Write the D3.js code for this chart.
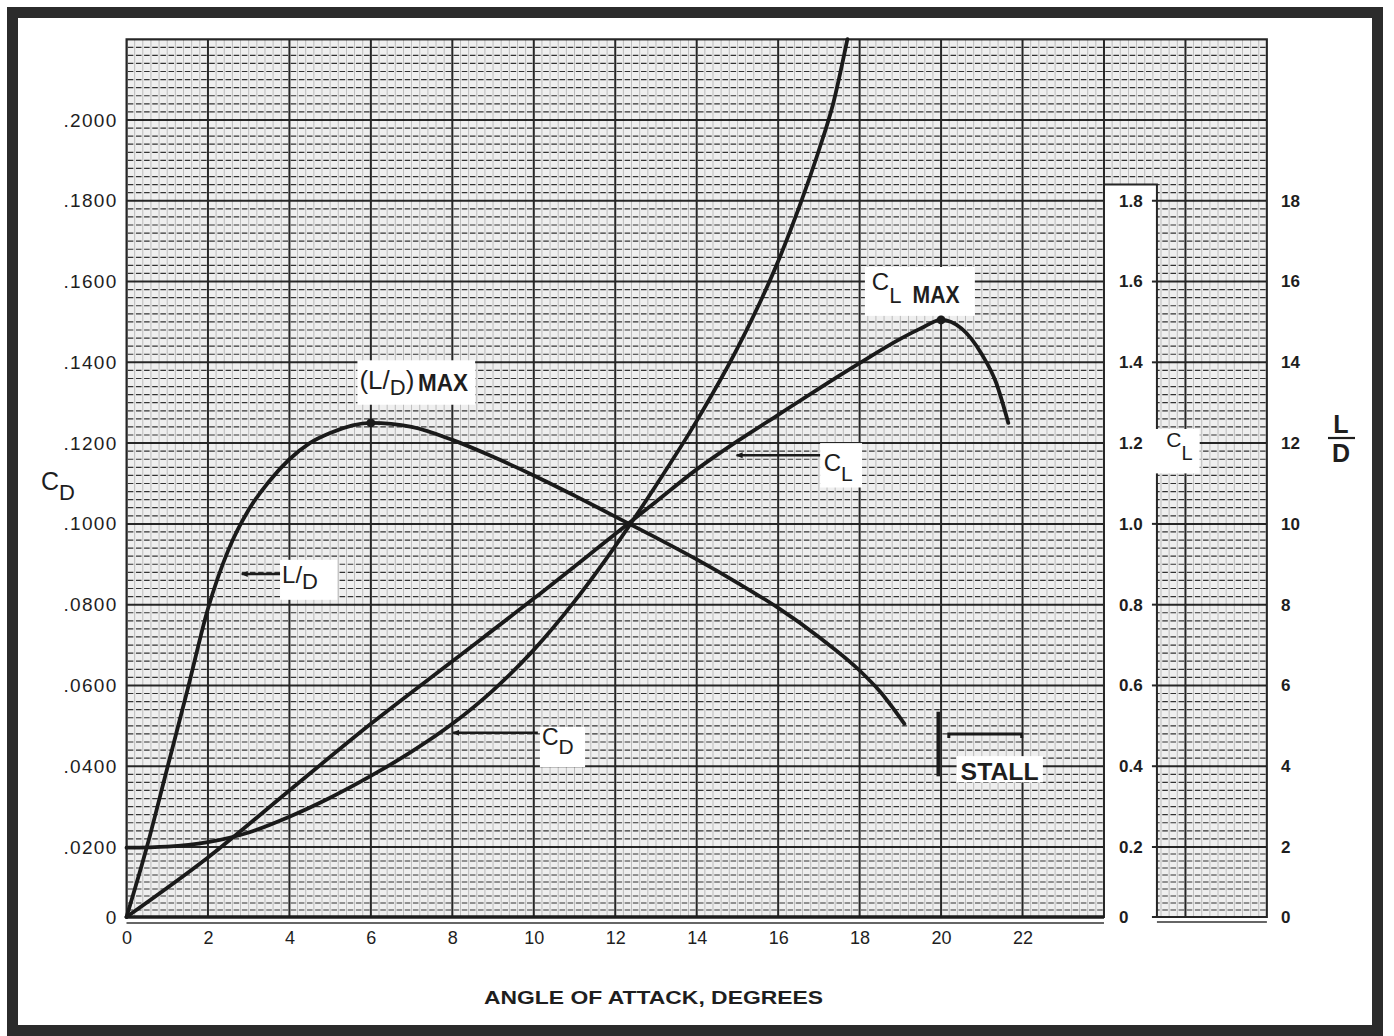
<!DOCTYPE html>
<html><head><meta charset="utf-8">
<script src="https://cdn.jsdelivr.net/npm/d3@7"></script>
<style>
html,body{margin:0;padding:0;background:#fff;}
svg{display:block;}
text{font-family:"Liberation Sans",Arial,Helvetica,sans-serif;fill:#1e1e1e;}
</style></head><body>
<svg id="chart" width="1394" height="1036"></svg>
<script>
// ---------- data ----------
const alphaLD = [0, 0.5, 1, 1.5, 2, 2.5, 3, 3.5, 4, 4.5, 5, 6, 7, 8, 9, 10, 11, 12, 13, 14, 15, 16, 17, 18, 18.5, 19.1];
const valuesLD = [0, 2.0, 3.95, 5.9, 7.9, 9.35, 10.35, 11.05, 11.6, 12.0, 12.25, 12.5, 12.4, 12.08, 11.66, 11.2, 10.7, 10.18, 9.66, 9.12, 8.54, 7.92, 7.2, 6.37, 5.85, 5.05];

const alphaCL = [0, 2, 4, 6, 8, 10, 12, 13, 14, 15, 16, 17, 18, 19, 19.5, 20, 20.5, 21, 21.35, 21.65];
const valuesCL = [0, 0.17, 0.34, 0.505, 0.66, 0.815, 0.975, 1.055, 1.135, 1.205, 1.27, 1.335, 1.398, 1.458, 1.484, 1.505, 1.484, 1.42, 1.35, 1.25];

const alphaCD = [0, 1, 2, 3, 4, 5, 6, 7, 8, 9, 10, 11, 12, 13, 14, 15, 16, 16.5, 17, 17.35, 17.7];
const valuesCD = [0.0198, 0.0201, 0.0212, 0.0236, 0.0275, 0.0322, 0.0376, 0.0436, 0.0505, 0.0588, 0.0688, 0.0808, 0.0945, 0.1095, 0.1255, 0.1435, 0.165, 0.178, 0.1925, 0.204, 0.22];

const xTicks = [0, 2, 4, 6, 8, 10, 12, 14, 16, 18, 20, 22];
const cdTicks = [0, 0.02, 0.04, 0.06, 0.08, 0.10, 0.12, 0.14, 0.16, 0.18, 0.20];
const cdTickLabels = ["0", ".0200", ".0400", ".0600", ".0800", ".1000", ".1200", ".1400", ".1600", ".1800", ".2000"];
const clTicks = [0, 0.2, 0.4, 0.6, 0.8, 1.0, 1.2, 1.4, 1.6, 1.8];
const clTickLabels = ["0", "0.2", "0.4", "0.6", "0.8", "1.0", "1.2", "1.4", "1.6", "1.8"];
const ldTicks = [0, 2, 4, 6, 8, 10, 12, 14, 16, 18];
const ldTickLabels = ["0", "2", "4", "6", "8", "10", "12", "14", "16", "18"];

const ldMax = {alpha: 6, value: 12.5};
const clMax = {alpha: 20, value: 1.505};

// ---------- scales ----------
const svg = d3.select("#chart");
const x = d3.scaleLinear().domain([0, 28]).range([126.5, 1266.9]);
const yRange = [917, 847, 39.2];
const yCD = d3.scaleLinear().domain([0, 0.02, 0.22]).range(yRange);
const yCL = d3.scaleLinear().domain([0, 0.2, 2.2]).range(yRange);
const yLD = d3.scaleLinear().domain([0, 2, 22]).range(yRange);

const mainRight = 24, panelLeft = 25.3, panelRight = 28, gapTop = 0.184, gridTop = 0.22;

// frame
svg.append("rect").attr("x", 0).attr("y", 0).attr("width", 1394).attr("height", 1036).attr("fill", "#fff");
svg.append("rect").attr("x", 12.5).attr("y", 12.5).attr("width", 1365).attr("height", 1018)
  .attr("fill", "none").attr("stroke", "#2b2b2b").attr("stroke-width", 11);

// ---------- grid ----------
const outline = [
  [x(0), yCD(0)], [x(0), yCD(gridTop)], [x(panelRight), yCD(gridTop)], [x(panelRight), yCD(0)],
  [x(panelLeft), yCD(0)], [x(panelLeft), yCD(gapTop)], [x(mainRight), yCD(gapTop)], [x(mainRight), yCD(0)]
];
const outlineStr = outline.map(p => p.join(",")).join(" ");
svg.append("clipPath").attr("id", "gridClip").append("polygon").attr("points", outlineStr);

const grid = svg.append("g").attr("clip-path", "url(#gridClip)");
grid.append("polygon").attr("points", outlineStr).attr("fill", "#efefef");

const hIdx = d3.range(0, 111);
const vIdx = d3.range(0, 141);
// minor verticals
grid.selectAll(".vmin").data(vIdx.filter(k => k % 10 !== 0)).join("line")
  .attr("x1", k => x(k * 0.2)).attr("x2", k => x(k * 0.2))
  .attr("y1", yCD(0)).attr("y2", yCD(gridTop))
  .attr("stroke", "#7a7a7a").attr("stroke-width", 0.8).attr("opacity", 0.55);
// minor horizontals (dashed)
const period = x(0.2) - x(0);
grid.selectAll(".hmin").data(hIdx.filter(k => k % 10 !== 0)).join("line")
  .attr("x1", x(0)).attr("x2", x(panelRight))
  .attr("y1", k => yCD(k * 0.002)).attr("y2", k => yCD(k * 0.002))
  .attr("stroke", "#333").attr("stroke-width", 1.2)
  .attr("stroke-dasharray", `${period * 0.68},${period * 0.32}`)
  .attr("stroke-dashoffset", -period * 0.16);
// major lines
grid.selectAll(".vmaj").data(vIdx.filter(k => k % 10 === 0)).join("line")
  .attr("x1", k => x(k * 0.2)).attr("x2", k => x(k * 0.2))
  .attr("y1", yCD(0)).attr("y2", yCD(gridTop))
  .attr("stroke", "#262626").attr("stroke-width", 2);
grid.selectAll(".hmaj").data(hIdx.filter(k => k % 10 === 0)).join("line")
  .attr("x1", x(0)).attr("x2", x(panelRight))
  .attr("y1", k => yCD(k * 0.002)).attr("y2", k => yCD(k * 0.002))
  .attr("stroke", "#262626").attr("stroke-width", 2);

svg.append("polygon").attr("points", outlineStr)
  .attr("fill", "none").attr("stroke", "#262626").attr("stroke-width", 2);

// small ticks on left of right panel for major lines
svg.selectAll(".ptick").data(clTicks).join("line")
  .attr("x1", x(panelLeft) - 5).attr("x2", x(panelLeft))
  .attr("y1", d => yCL(d)).attr("y2", d => yCL(d))
  .attr("stroke", "#262626").attr("stroke-width", 2);

// bottom axis thick line + thin under-line
svg.append("line").attr("x1", x(0)).attr("x2", x(mainRight)).attr("y1", yCD(0)).attr("y2", yCD(0))
  .attr("stroke", "#1e1e1e").attr("stroke-width", 3.5);
svg.append("line").attr("x1", x(0)).attr("x2", x(mainRight)).attr("y1", yCD(0) + 6).attr("y2", yCD(0) + 6)
  .attr("stroke", "#333").attr("stroke-width", 1.5);
svg.append("line").attr("x1", x(panelLeft)).attr("x2", x(panelRight)).attr("y1", yCD(0) + 5).attr("y2", yCD(0) + 5)
  .attr("stroke", "#333").attr("stroke-width", 1.5);

// ---------- axes ----------
const fontFam = '"Liberation Sans",Arial,sans-serif';
const xAxis = svg.append("g").attr("transform", `translate(0,${yCD(0)})`)
  .call(d3.axisBottom(x).tickValues(xTicks).tickSize(0).tickPadding(14).tickFormat(d3.format("d")));
xAxis.select(".domain").remove();
xAxis.selectAll("text").attr("font-size", 18).attr("fill", "#1e1e1e").style("font-family", fontFam);

const yAxisL = svg.append("g").attr("transform", `translate(${x(0)},0)`)
  .call(d3.axisLeft(yCD).tickValues(cdTicks).tickSize(0).tickPadding(9).tickFormat((d, i) => cdTickLabels[i]));
yAxisL.select(".domain").remove();
yAxisL.selectAll("text").attr("font-size", 19).attr("letter-spacing", 1.3).attr("fill", "#1e1e1e").style("font-family", fontFam);

const yAxisCL = svg.append("g").attr("transform", `translate(1119,0)`)
  .call(d3.axisRight(yCL).tickValues(clTicks).tickSize(0).tickPadding(0).tickFormat((d, i) => clTickLabels[i]));
yAxisCL.select(".domain").remove();
yAxisCL.selectAll("text").attr("font-size", 17).attr("font-weight", "bold").attr("fill", "#1e1e1e").style("font-family", fontFam);

const yAxisLD = svg.append("g").attr("transform", `translate(1281,0)`)
  .call(d3.axisRight(yLD).tickValues(ldTicks).tickSize(0).tickPadding(0).tickFormat((d, i) => ldTickLabels[i]));
yAxisLD.select(".domain").remove();
yAxisLD.selectAll("text").attr("font-size", 17).attr("font-weight", "bold").attr("fill", "#1e1e1e").style("font-family", fontFam);

// ---------- white label boxes (under the curves) ----------
const boxes = svg.append("g");
function box(a0, a1, yScale, v0, v1) {
  boxes.append("rect").attr("x", x(a0)).attr("y", yScale(v1)).attr("width", x(a1) - x(a0))
    .attr("height", yScale(v0) - yScale(v1)).attr("fill", "#fff");
}
box(25.15, 26.35, yCL, 1.125, 1.235);   // C_L axis title on right panel
box(5.67, 8.56, yLD, 12.95, 14.05);     // (L/D) MAX
box(18.13, 20.83, yCL, 1.515, 1.636);   // C_L MAX
box(3.77, 5.17, yLD, 8.12, 9.11);       // L/D
box(17.03, 18.06, yCL, 1.09, 1.2);      // C_L
box(10.15, 11.26, yCD, 0.0398, 0.0497); // C_D
box(20.38, 22.5, yCL, 0.36, 0.425);     // STALL

// ---------- curves ----------
const curveG = svg.append("g");
const ldLine = d3.line().x(d => x(d[0])).y(d => yLD(d[1])).curve(d3.curveMonotoneX);
const clLine = d3.line().x(d => x(d[0])).y(d => yCL(d[1])).curve(d3.curveMonotoneX);
const cdLine = d3.line().x(d => x(d[0])).y(d => yCD(d[1])).curve(d3.curveMonotoneX);
const style = p => p.attr("fill", "none").attr("stroke", "#1a1a1a").attr("stroke-width", 3.8)
  .attr("stroke-linejoin", "round").attr("stroke-linecap", "round");

curveG.append("path").datum(alphaLD.map((a, i) => [a, valuesLD[i]])).attr("d", ldLine).call(style);
curveG.append("path").datum(alphaCL.map((a, i) => [a, valuesCL[i]])).attr("d", clLine).call(style);
curveG.append("path").datum(alphaCD.map((a, i) => [a, valuesCD[i]])).attr("d", cdLine).call(style);

curveG.append("circle").attr("cx", x(ldMax.alpha)).attr("cy", yLD(ldMax.value)).attr("r", 4.5).attr("fill", "#1a1a1a");
curveG.append("circle").attr("cx", x(clMax.alpha)).attr("cy", yCL(clMax.value)).attr("r", 4.5).attr("fill", "#1a1a1a");

// ---------- annotations ----------
// (L/D) MAX
const t1 = svg.append("text").attr("x", x(5.72)).attr("y", yLD(13.35)).attr("font-size", 26);
t1.append("tspan").text("(L/");
t1.append("tspan").attr("dy", 6).attr("font-size", 22).text("D");
t1.append("tspan").attr("dy", -6).text(")");
svg.append("text").attr("x", x(7.16)).attr("y", yLD(13.3)).attr("font-size", 23).attr("font-weight", "bold")
  .attr("textLength", 50).attr("lengthAdjust", "spacingAndGlyphs").text("MAX");

// C_L MAX
const t2 = svg.append("text").attr("x", x(18.3)).attr("y", yCL(1.579)).attr("font-size", 24);
t2.append("tspan").text("C");
t2.append("tspan").attr("dy", 13).attr("font-size", 22).text("L");
svg.append("text").attr("x", x(19.3)).attr("y", yCL(1.547)).attr("font-size", 24).attr("font-weight", "bold")
  .attr("textLength", 47).attr("lengthAdjust", "spacingAndGlyphs").text("MAX");

// leaders with small arrow heads
function leader(a0, a1, yScale, v) {
  const yy = yScale(v);
  svg.append("line").attr("x1", x(a0)).attr("x2", x(a1)).attr("y1", yy).attr("y2", yy)
    .attr("stroke", "#1a1a1a").attr("stroke-width", 2.6);
  svg.append("path").attr("d", `M${x(a0) - 1},${yy} l7,-3 l0,6 z`).attr("fill", "#1a1a1a");
}

// L/D label
leader(2.83, 3.77, yLD, 8.76);
const t3 = svg.append("text").attr("x", x(3.82)).attr("y", yLD(8.54)).attr("font-size", 24);
t3.append("tspan").text("L/");
t3.append("tspan").attr("dy", 6).attr("font-size", 22).text("D");

// C_L label
leader(14.98, 17.03, yCL, 1.17);
const t4 = svg.append("text").attr("x", x(17.12)).attr("y", yCL(1.13)).attr("font-size", 24);
t4.append("tspan").text("C");
t4.append("tspan").attr("dy", 10).attr("font-size", 21).text("L");

// C_D label
leader(8.02, 10.1, yCD, 0.0483);
const t5 = svg.append("text").attr("x", x(10.2)).attr("y", yCD(0.0452)).attr("font-size", 23);
t5.append("tspan").text("C");
t5.append("tspan").attr("dy", 9).attr("font-size", 21).text("D");

// STALL
svg.append("line").attr("x1", x(19.93)).attr("x2", x(19.93)).attr("y1", yCL(0.535)).attr("y2", yCL(0.375))
  .attr("stroke", "#1a1a1a").attr("stroke-width", 3.5);
svg.append("path")
  .attr("d", `M${x(20.19)},${yCL(0.48) + 4} V${yCL(0.48)} H${x(21.98)} V${yCL(0.48) + 4}`)
  .attr("fill", "none").attr("stroke", "#1a1a1a").attr("stroke-width", 3);
svg.append("text").attr("x", x(20.48)).attr("y", yCL(0.366)).attr("font-size", 24).attr("font-weight", "bold")
  .attr("textLength", 78).attr("lengthAdjust", "spacingAndGlyphs").text("STALL");

// ---------- axis titles ----------
const tCD = svg.append("text").attr("x", 41).attr("y", 490).attr("font-size", 25);
tCD.append("tspan").text("C");
tCD.append("tspan").attr("dy", 10).attr("font-size", 22).text("D");

const tCL = svg.append("text").attr("x", x(25.53)).attr("y", yCL(1.19)).attr("font-size", 21);
tCL.append("tspan").text("C");
tCL.append("tspan").attr("dy", 13).attr("font-size", 20).text("L");

svg.append("text").attr("x", 1341).attr("y", 433).attr("text-anchor", "middle").attr("font-size", 25).attr("font-weight", "bold").text("L");
svg.append("line").attr("x1", 1328).attr("x2", 1355).attr("y1", 438).attr("y2", 438).attr("stroke", "#1e1e1e").attr("stroke-width", 2.2);
svg.append("text").attr("x", 1341).attr("y", 462).attr("text-anchor", "middle").attr("font-size", 25).attr("font-weight", "bold").text("D");

svg.append("text").attr("x", 484).attr("y", 1004).attr("font-size", 19).attr("font-weight", "bold")
  .attr("textLength", 339).attr("lengthAdjust", "spacingAndGlyphs").text("ANGLE OF ATTACK, DEGREES");
</script>
</body></html>
